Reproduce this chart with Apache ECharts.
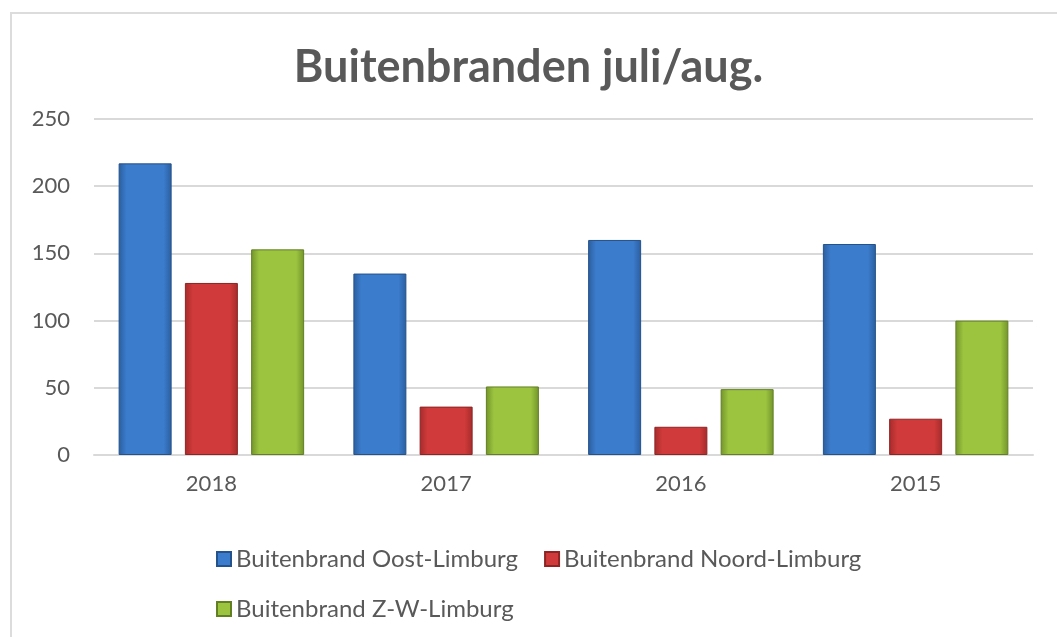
<!DOCTYPE html>
<html>
<head>
<meta charset="utf-8">
<script src="https://cdn.jsdelivr.net/npm/echarts@6/dist/echarts.min.js"></script>
<style>
  html, body { margin: 0; padding: 0; background: #fff; }
  #frame { position: absolute; left: 10px; top: 12px; width: 1100px; height: 700px; border: 2px solid #dcdcdc; }
  #chart { position: absolute; left: 0; top: 0; width: 1057px; height: 637px; }
</style>
</head>
<body>
<div id="frame"></div>
<div id="chart"></div>
<script>
// data
var years = ['2018', '2017', '2016', '2015'];
var oostLimburg = [217, 135, 160, 157];
var noordLimburg = [128, 36, 21, 27];
var zwLimburg = [153, 51, 49, 100];
var seriesNames = ['Buitenbrand Oost-Limburg', 'Buitenbrand Noord-Limburg', 'Buitenbrand Z-W-Limburg'];

function bevel(edge, mid) {
	return new echarts.graphic.LinearGradient(0, 0, 1, 0, [
		{ offset: 0, color: edge },
		{ offset: 0.15, color: mid },
		{ offset: 0.85, color: mid },
		{ offset: 1, color: edge }
	]);
}

var colours = [
	{ fill: bevel('#2b5e9e', '#3b7ccc'), border: '#24528a' },
	{ fill: bevel('#a52b2b', '#d03a3a'), border: '#8f2424' },
	{ fill: bevel('#72932b', '#9cc43f'), border: '#627f24' }
];

var myChart = echarts.init(document.getElementById('chart'));
var font = 'Lato, "Open Sans", sans-serif';

function makeSeries(i, data) {
	return {
		name: seriesNames[i],
		type: 'bar',
		data: data,
		barWidth: 53,
		barGap: '25%',
		itemStyle: { color: colours[i].fill, borderColor: colours[i].border, borderWidth: 1 }
	};
}

var option = {
	animation: false,
	title: {
		text: 'Buitenbranden juli/aug.',
		left: 'center',
		top: 40,
		textStyle: { fontFamily: font, fontSize: 45, fontWeight: 'bold', color: '#595959' }
	},
	legend: {
		left: 211,
		top: 542,
		width: 700,
		itemWidth: 14,
		itemHeight: 14,
		itemGap: 26,
		icon: 'rect',
		textStyle: { fontFamily: font, fontSize: 24, color: '#595959' },
		data: seriesNames
	},
	grid: { left: 94, right: 24, top: 119, height: 336, containLabel: false },
	xAxis: {
		type: 'category',
		data: years,
		axisLine: { lineStyle: { color: '#d9d9d9', width: 2 } },
		axisTick: { show: false },
		axisLabel: { fontFamily: font, fontSize: 22, color: '#595959', margin: 18 }
	},
	yAxis: {
		type: 'value',
		min: 0,
		max: 250,
		interval: 50,
		axisLine: { show: false },
		axisTick: { show: false },
		axisLabel: { fontFamily: font, fontSize: 22, color: '#595959', margin: 24 },
		splitLine: { lineStyle: { color: '#d9d9d9', width: 2 } }
	},
	series: [
		makeSeries(0, oostLimburg),
		makeSeries(1, noordLimburg),
		makeSeries(2, zwLimburg)
	]
};
myChart.setOption(option);
</script>
</body>
</html>
